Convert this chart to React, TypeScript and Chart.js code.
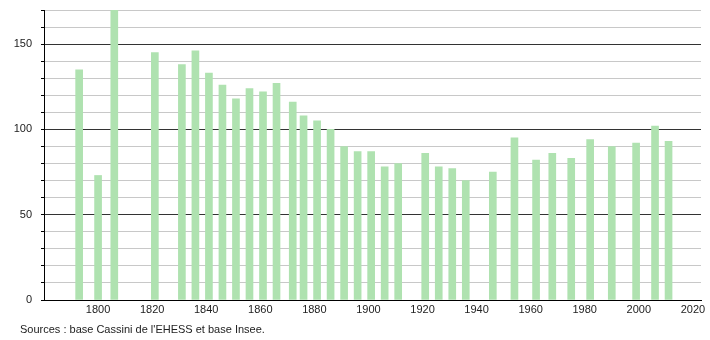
import React, { useEffect, useRef } from "react";
import { Chart, registerables } from "chart.js";

Chart.register(...registerables);

const years = [1793, 1800, 1806, 1821, 1831, 1836, 1841, 1846, 1851, 1856, 1861, 1866, 1872, 1876, 1881, 1886, 1891, 1896, 1901, 1906, 1911, 1921, 1926, 1931, 1936, 1946, 1954, 1962, 1968, 1975, 1982, 1990, 1999, 2006, 2011];
const population = [135, 73, 172, 145, 138, 146, 133, 126, 118, 124, 122, 127, 116, 108, 105, 100, 90, 87, 87, 78, 80, 86, 78, 77, 70, 75, 95, 82, 86, 83, 94, 90, 92, 102, 93];
const sourceText = "Sources : base Cassini de l'EHESS et base Insee.";

export default function App() {
  const ref = useRef<HTMLCanvasElement | null>(null);
  useEffect(() => {
    if (!ref.current) return;
    const font = { family: "'Liberation Sans', Arial, sans-serif", size: 11 };
    const chart = new Chart(ref.current, {
      type: "bar",
      data: {
        datasets: [
          {
            data: years.map((y, i) => ({ x: y, y: population[i] })),
            backgroundColor: "#afe2b0",
            borderWidth: 0,
            barThickness: 7,
          },
        ],
      },
      options: {
        animation: false,
        responsive: false,
        layout: { padding: { left: 0, top: 10, right: 9, bottom: 20 } },
        plugins: { legend: { display: false }, tooltip: { enabled: false } },
        scales: {
          x: {
            type: "linear",
            offset: false,
            min: 1780,
            max: 2023,
            grid: { display: false, drawTicks: false },
            border: { color: "#000", width: 1 },
            ticks: {
              stepSize: 20,
              includeBounds: false,
              font,
              color: "#222",
              padding: 3,
              maxRotation: 0,
              callback: (v: any) => (v === 1780 ? "" : String(v)),
            },
            afterFit: (s: any) => {
              s.height = 20;
              s.paddingLeft = 0;
              s.paddingRight = 0;
            },
          },
          y: {
            min: 0,
            max: 170,
            grid: {
              color: (ctx: any) => (ctx.tick && ctx.tick.value % 50 === 0 ? "#333" : "#c8c8c8"),
              tickColor: "#000",
              tickLength: 3,
              lineWidth: 1,
            },
            border: { color: "#000", width: 1 },
            ticks: {
              stepSize: 10,
              font,
              color: "#222",
              padding: 9,
              callback: (v: any) => (v % 50 === 0 ? String(v) : ""),
            },
            afterFit: (s: any) => {
              s.width = 44;
              s.paddingTop = 0;
              s.paddingBottom = 0;
            },
          },
        },
      },
    });
    return () => chart.destroy();
  }, []);
  return (
    <div style={{ position: "fixed", left: 0, top: 0, width: 710, height: 340, background: "#fff" }}>
      <canvas ref={ref} width={710} height={340} style={{ display: "block" }} />
      <div
        style={{
          position: "absolute",
          left: 20,
          top: 323,
          fontFamily: "'Liberation Sans', Arial, sans-serif",
          fontSize: 11,
          color: "#222",
          whiteSpace: "nowrap",
        }}
      >
        {sourceText}
      </div>
    </div>
  );
}
